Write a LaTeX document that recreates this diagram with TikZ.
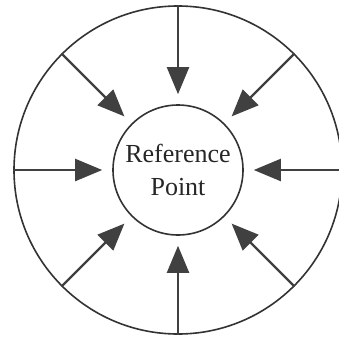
\documentclass[tikz,border=0pt]{standalone}
\usepackage{fontspec}
\setmainfont{Liberation Serif}
\usetikzlibrary{arrows.meta}

\begin{document}
\begin{tikzpicture}[x=1pt,y=1pt,>={Triangle[length=27pt,width=22pt]}]

% --- Riquadro ---
\useasboundingbox (0,0) rectangle (339,338);

% --- Cerchi ---
\node[circle, draw=black!80, line width=1.6pt, minimum size=328pt] (rim) at (178,168) {};
\node[circle, draw=black!80, line width=1.6pt, minimum size=130pt, inner sep=0pt,
  align=center, text=black!85, font=\fontsize{26}{33}\selectfont] (ref) at (178,168) {Reference\\Point};

% --- Frecce ---
\foreach \a in {0,45,...,315}
  \draw[->, line width=2.2pt, black!75, shorten >=10pt] (rim.\a) -- (ref.\a);

\end{tikzpicture}
\end{document}
